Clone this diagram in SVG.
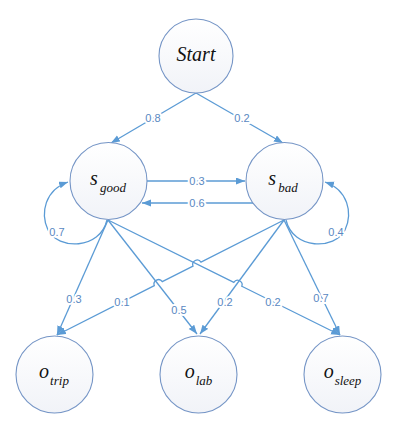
<svg xmlns="http://www.w3.org/2000/svg" width="405" height="428" viewBox="0 0 405 428">
<defs>
<linearGradient id="nodeFill" x1="0" y1="0" x2="0" y2="1">
<stop offset="0" stop-color="#ffffff"/>
<stop offset="1" stop-color="#f1f3f8"/>
</linearGradient>
<marker id="arr" markerUnits="userSpaceOnUse" markerWidth="10" markerHeight="8" refX="9" refY="3.5" orient="auto">
<path d="M0,0 L9,3.5 L0,7 z" fill="#5b9bd5"/>
</marker>
</defs>
<style>
.node circle{fill:url(#nodeFill);stroke:#7595c6;stroke-width:1.1}
.nt{font-family:"Liberation Serif","Times New Roman",serif;font-style:italic;font-size:20px;fill:#111;text-anchor:middle}
.sub{font-size:13px}
.edge{fill:none;stroke:#5b9bd5;stroke-width:1.3;marker-end:url(#arr)}
.lbl{font-family:"Liberation Sans",Arial,sans-serif;font-size:11px;fill:#5a88c2;text-anchor:middle;stroke:#ffffff;stroke-width:4;paint-order:stroke;stroke-linejoin:round}
</style>
<rect width="405" height="428" fill="#ffffff"/>
<g id="connectors">
<path class="edge" d="M196,93 L111,143"/>
<path class="edge" d="M196,93 L283,143"/>
<path class="edge" d="M147,181 L245,181"/>
<path class="edge" d="M253,203 L142,203"/>
<path class="edge" d="M107,220 C100,250 58,250 48,230 C40,213 45,190 68,182"/>
<path class="edge" d="M286,220 C293,250 335,250 345,230 C353,213 348,190 325,182"/>
<path class="edge" d="M108,220 L57,335"/>
<path class="edge" d="M108,220 L197,334"/>
<path class="edge" d="M108,220 L233.8,282.3 A4.5,4.5 0 0 1 241.8,286.3 L340,335"/>
<path class="edge" d="M284,220 L201,262.1 A4.5,4.5 0 0 0 193,266.1 L162.3,281.7 A4.5,4.5 0 0 0 154.3,285.7 L57,335"/>
<path class="edge" d="M284,220 L200,334"/>
<path class="edge" d="M284,220 L340,335"/>
<text class="lbl" x="153" y="122">0.8</text>
<text class="lbl" x="242" y="122">0.2</text>
<text class="lbl" x="197" y="185">0.3</text>
<text class="lbl" x="197" y="207">0.6</text>
<text class="lbl" x="57" y="236">0.7</text>
<text class="lbl" x="336" y="236">0.4</text>
<text class="lbl" x="74" y="303">0.3</text>
<text class="lbl" x="122" y="306">0.1</text>
<text class="lbl" x="179" y="314">0.5</text>
<text class="lbl" x="225" y="306">0.2</text>
<text class="lbl" x="273" y="306">0.2</text>
<text class="lbl" x="321" y="302">0.7</text>
</g>
<g id="start" class="node">
<circle cx="196" cy="56" r="37"/>
<text class="nt" x="196" y="61">Start</text>
</g>
<g id="s_good" class="node">
<circle cx="108.5" cy="181" r="38.5"/>
<text class="nt" x="108" y="185">s<tspan class="sub" dx="2" dy="6.5">good</tspan></text>
</g>
<g id="s_bad" class="node">
<circle cx="284.5" cy="181" r="38.5"/>
<text class="nt" x="283" y="185">s<tspan class="sub" dx="2" dy="6.5">bad</tspan></text>
</g>
<g id="o_trip" class="node">
<circle cx="54.5" cy="374.5" r="38.5"/>
<text class="nt" x="54" y="378">o<tspan class="sub" dx="1" dy="6.5">trip</tspan></text>
</g>
<g id="o_lab" class="node">
<circle cx="198.5" cy="374.5" r="38.5"/>
<text class="nt" x="198.5" y="378">o<tspan class="sub" dx="1" dy="6.5">lab</tspan></text>
</g>
<g id="o_sleep" class="node">
<circle cx="342.5" cy="374.5" r="38.5"/>
<text class="nt" x="342.5" y="378">o<tspan class="sub" dx="1" dy="6.5">sleep</tspan></text>
</g>
</svg>
